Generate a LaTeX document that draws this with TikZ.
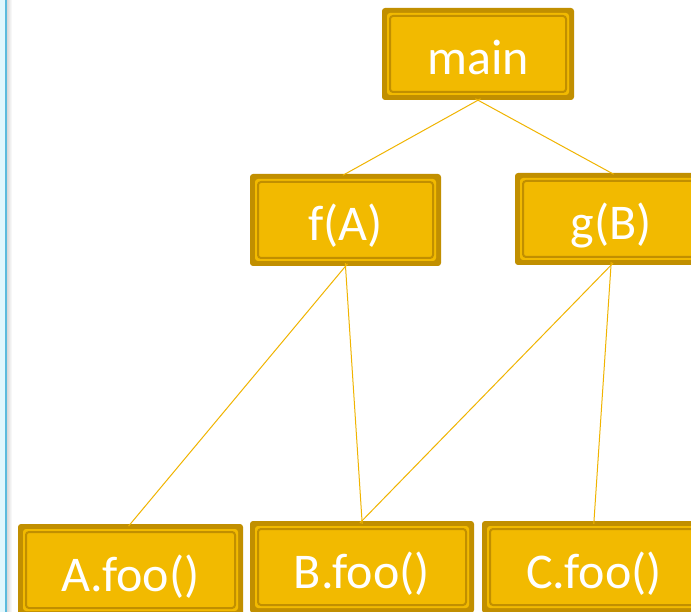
\documentclass[tikz,border=0pt]{standalone}
\usepackage{fontspec}
\setmainfont{Carlito}
\definecolor{goldfill}{HTML}{F2BA00}
\definecolor{golddark}{HTML}{C18F00}
\definecolor{edgeline}{HTML}{F0B400}
\definecolor{stripfill}{HTML}{E0F7FD}
\definecolor{stripline}{HTML}{5BBBDD}
\begin{document}
\begin{tikzpicture}[x=1pt,y=-1pt,
  callbox/.style={rectangle, inner sep=0pt, fill=golddark, rounded corners=3pt,
    minimum height=92pt, text=white, text height=49pt, text depth=7pt,
    font=\fontsize{50}{58}\selectfont,
    path picture={
      \fill[goldfill] ([shift={(5pt,-5pt)}]path picture bounding box.north west)
        rectangle ([shift={(-5pt,5pt)}]path picture bounding box.south east);
      \draw[golddark, line width=2pt] ([shift={(8pt,-8pt)}]path picture bounding box.north west)
        rectangle ([shift={(-8pt,8pt)}]path picture bounding box.south east);
    }},
  call/.style={draw=edgeline, line width=1pt, shorten <=-3pt, shorten >=-3pt}]
\useasboundingbox (0,0) rectangle (691,612);
\clip (0,0) rectangle (691,612);
\fill[white] (0,0) rectangle (691,612);
% slide edge on the left
\fill[stripfill] (0,0) rectangle (5,612);
\fill[stripline] (5,0) rectangle (7,612);
\shade[left color=black!15, right color=white] (7,0) rectangle (12,612);

% call graph nodes
\node[callbox, minimum width=192pt] (main) at (478,54) {main};
\node[callbox, minimum width=191pt] (fA) at (345.5,220) {f(A)};
\node[callbox, minimum width=192pt] (gB) at (611,219) {g(B)};
\node[callbox, minimum width=225pt] (Afoo) at (130.5,570) {A.foo()};
\node[callbox, minimum width=224pt] (Bfoo) at (362,567) {B.foo()};
\node[callbox, minimum width=224pt] (Cfoo) at (594,567) {C.foo()};

% call edges
\draw[call] (main.south) -- (fA.north);
\draw[call] (main.south) -- (gB.north);
\draw[call] (fA.south) -- (Afoo.north);
\draw[call] (fA.south) -- (Bfoo.north);
\draw[call] (gB.south) -- (Bfoo.north);
\draw[call] (gB.south) -- (Cfoo.north);
\end{tikzpicture}
\end{document}
